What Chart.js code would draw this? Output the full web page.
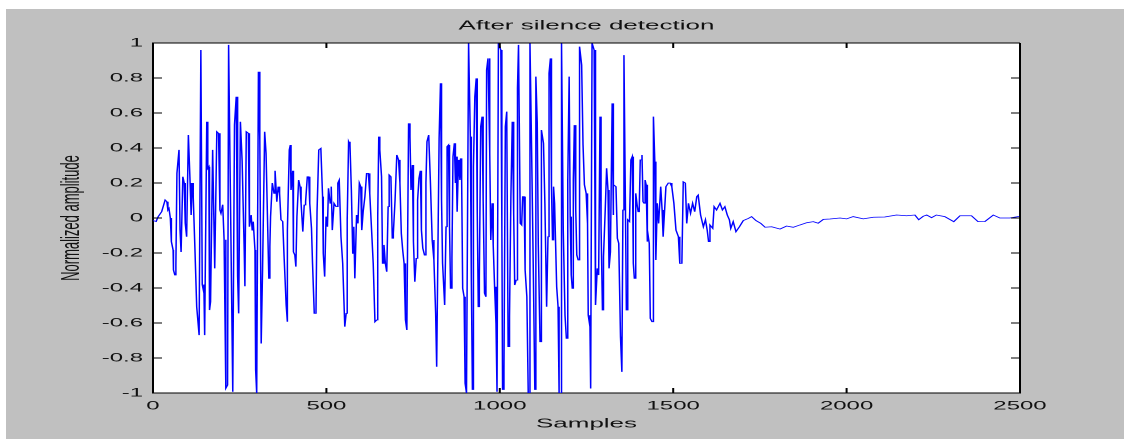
<!DOCTYPE html>
<html>
<head>
<meta charset="utf-8">
<title>After silence detection</title>
<script src="https://cdn.jsdelivr.net/npm/chart.js@4.4.1/dist/chart.umd.min.js"></script>
<style>
  html, body { margin: 0; padding: 0; background: #fff; overflow: hidden; }
  /* the figure is drawn at half width and stretched out horizontally */
  #wrap { width: 562px; height: 439px; transform: scaleX(2); transform-origin: 0 0; }
</style>
</head>
<body>
<div id="wrap"><canvas id="wave" width="562" height="439"></canvas></div>
<script>
// waveform vertices (sample index, normalized amplitude)
const sampleIdx = [
  0, 9, 15, 25, 35, 40, 43, 46, 50, 53, 58, 59, 63, 66, 69, 75, 78, 81, 86, 90,
  93, 97, 102, 107, 110, 113, 116, 121, 126, 133, 138, 142, 147, 149, 155, 158, 161, 163, 166, 172,
  178, 184, 189, 193, 196, 201, 205, 210, 215, 218, 224, 230, 235, 240, 244, 247, 252, 257, 263, 265,
  269, 275, 278, 283, 286, 289, 294, 296, 299, 304, 308, 312, 316, 322, 326, 334, 337, 339, 344, 349,
  352, 357, 361, 365, 369, 374, 378, 384, 386, 389, 393, 396, 398, 403, 405, 409, 412, 415, 420, 424,
  427, 432, 436, 440, 445, 449, 452, 457, 460, 465, 470, 473, 478, 484, 489, 491, 495, 499, 503, 506,
  511, 514, 517, 522, 528, 533, 537, 542, 547, 553, 557, 560, 564, 568, 572, 576, 579, 582, 587, 591,
  595, 599, 602, 606, 611, 616, 621, 625, 631, 635, 640, 645, 648, 651, 654, 659, 662, 666, 670, 674,
  678, 681, 686, 690, 693, 698, 703, 708, 712, 716, 720, 724, 728, 732, 737, 741, 744, 748, 751, 755,
  759, 763, 767, 771, 774, 778, 783, 787, 790, 795, 800, 805, 810, 815, 818, 825, 829, 832, 835, 841,
  845, 848, 852, 855, 858, 862, 865, 869, 872, 874, 877, 881, 885, 887, 890, 893, 897, 900, 904, 910,
  915, 918, 921, 924, 928, 932, 935, 938, 941, 945, 949, 952, 956, 960, 962, 966, 971, 974, 978, 981,
  985, 989, 992, 996, 1003, 1006, 1008, 1012, 1016, 1020, 1024, 1028, 1032, 1036, 1040, 1043, 1047, 1051, 1054, 1059,
  1063, 1066, 1070, 1073, 1078, 1082, 1087, 1092, 1097, 1101, 1104, 1108, 1111, 1116, 1120, 1126, 1130, 1135, 1139, 1142,
  1146, 1149, 1152, 1155, 1158, 1164, 1168, 1171, 1175, 1178, 1183, 1188, 1192, 1196, 1200, 1203, 1206, 1209, 1212, 1215,
  1219, 1222, 1226, 1229, 1231, 1236, 1240, 1244, 1249, 1253, 1255, 1260, 1262, 1266, 1272, 1275, 1277, 1281, 1285, 1289,
  1292, 1296, 1299, 1304, 1308, 1312, 1315, 1319, 1324, 1326, 1329, 1335, 1339, 1343, 1348, 1352, 1355, 1358, 1362, 1365,
  1369, 1374, 1378, 1382, 1385, 1388, 1392, 1396, 1399, 1402, 1405, 1410, 1413, 1416, 1419, 1422, 1424, 1427, 1431, 1434,
  1439, 1443, 1447, 1450, 1454, 1458, 1464, 1468, 1471, 1479, 1486, 1491, 1496, 1502, 1508, 1515, 1519, 1525, 1529, 1535,
  1539, 1544, 1550, 1556, 1562, 1568, 1572, 1579, 1587, 1593, 1598, 1602, 1606, 1614, 1618, 1625, 1635, 1642, 1649, 1656,
  1662, 1666, 1673, 1681, 1691, 1702, 1717, 1726, 1739, 1752, 1765, 1784, 1808, 1827, 1846, 1865, 1885, 1904, 1918, 1933,
  1952, 1981, 2000, 2019, 2048, 2077, 2110, 2144, 2173, 2197, 2208, 2221, 2231, 2245, 2259, 2283, 2309, 2327, 2360, 2379,
  2399, 2423, 2442, 2471, 2500
];
const amplitude = [
  -0.015, -0.02, 0.008, 0.036, 0.103, 0.093, 0.046, 0.055, 0, -0.135, -0.183, -0.297, -0.326, -0.269, 0.255, 0.389, -0.069, -0.194, 0.236, 0.2,
  -0.03, -0.107, 0.474, 0.2, 0.017, 0.2, 0.122, -0.183, -0.507, -0.669, 0.96, -0.38, -0.43, -0.669, 0.55, 0.284, 0.293, -0.526, -0.478, 0.389,
  -0.288, 0.493, 0.484, 0.046, 0.027, 0.076, -0.124, -0.973, -0.955, 0.989, 0.008, -0.993, 0.533, 0.693, -0.335, -0.545, 0.55, 0.326, -0.183, -0.39,
  0.493, 0.484, -0.05, 0.017, -0.069, -0.021, -0.183, -0.869, -1.0, 0.836, 0.446, -0.717, -0.288, 0.493, 0.37, -0.345, -0.164, 0.008, 0.2, 0.141,
  0.27, 0.093, 0.179, 0.141, -0.01, -0.02, -0.221, -0.497, -0.593, -0.069, 0.389, 0.417, 0.16, 0.27, -0.194, -0.212, -0.278, 0.008, 0.217, 0.179,
  0.084, -0.078, 0.074, 0.093, 0.236, 0.236, 0.084, -0.059, -0.259, -0.545, -0.535, 0.036, 0.389, 0.398, 0.122, -0.202, -0.335, 0.008, -0.05, 0.17,
  0.084, 0.179, -0.069, 0.084, 0.065, 0.2, 0.217, -0.107, -0.259, -0.621, -0.545, -0.01, 0.436, 0.417, 0.16, -0.202, -0.05, -0.345, 0.017, -0.031,
  0.2, 0.179, -0.069, 0.036, 0.122, 0.255, 0.255, 0.141, -0.097, -0.259, -0.593, -0.583, 0.008, 0.465, 0.389, 0.236, -0.259, -0.154, -0.259, -0.307,
  0.065, 0.246, 0.236, -0.116, -0.088, 0.103, 0.36, 0.332, 0.2, -0.088, -0.183, -0.259, -0.583, -0.64, 0.541, 0.465, 0.16, 0.303, -0.135, -0.364,
  -0.231, 0.103, 0.227, 0.27, -0.069, -0.173, -0.212, 0.2, 0.436, 0.474, 0.2, -0.126, -0.24, -0.545, -0.85, 0.455, 0.77, 0.103, -0.259, -0.497,
  -0.05, 0.408, 0.417, -0.05, -0.402, -0.231, 0.351, 0.427, 0.2, 0.351, 0.036, 0.332, 0.217, 0.341, 0.217, -0.402, -0.45, -0.945, -1.0, 1.0,
  0.465, -0.364, -0.98, 0.293, 0.693, 0.798, 0.027, -0.507, -0.335, 0.522, 0.579, 0.103, -0.43, -0.45, 0.846, 0.912, 0.37, -0.126, 0.084, -0.154,
  -0.393, -0.602, -0.993, 0.998, 0.96, -0.069, -0.98, -0.869, 0.522, 0.608, -0.735, -0.564, 0.122, 0.55, 0.027, -0.383, -0.355, 0.741, 0.989, -0.031,
  -0.04, 0.122, 0.122, -0.297, -0.45, -1.0, 1.0, 0.351, -0.355, -0.98, 0.808, 0.541, -0.154, -0.707, 0.503, 0.427, 0.084, -0.507, -0.107, 0.827,
  0.912, 0.179, -0.126, 0.179, 0.084, -0.393, -0.507, -1.0, -1.0, 1.0, -0.069, -0.555, -0.688, 0.217, 0.808, 0.008, -0.326, -0.402, 0.217, 0.531,
  0.046, -0.212, -0.24, -0.088, 0.979, 0.874, 0.417, 0.19, 0.141, -0.031, -0.555, -0.621, -0.974, 1.0, 0.96, -0.031, -0.497, -0.288, -0.326, 0.579,
  -0.05, -0.526, -0.221, 0.046, 0.284, 0.16, -0.288, -0.194, 0.655, 0.017, 0.19, 0.179, -0.116, -0.145, -0.678, -0.879, 0.046, 0.931, 0.122, -0.526,
  -0.01, -0.02, 0.332, 0.351, -0.259, -0.345, 0.141, 0.074, 0.036, 0.046, 0.332, 0.36, 0.093, 0.084, 0.217, 0.19, -0.135, -0.069, -0.145, -0.574,
  -0.593, 0.579, 0.322, -0.24, 0.084, -0.031, 0.179, 0.046, -0.107, 0.179, 0.2, 0.2, 0.179, 0.084, -0.069, -0.107, -0.259, -0.259, 0.207, 0.2,
  -0.031, 0.084, 0.027, 0.084, 0.036, 0.122, 0.131, 0.017, -0.05, -0.01, -0.069, -0.135, -0.04, -0.059, 0.065, 0.046, 0.084, 0.046, 0.065, 0.017,
  -0.01, -0.059, -0.021, -0.078, -0.05, -0.015, -0.002, 0.008, -0.015, -0.03, -0.053, -0.05, -0.063, -0.046, -0.053, -0.04, -0.027, -0.021, -0.03, -0.008,
  -0.006, 0.0, -0.005, 0.008, -0.005, 0.004, 0.006, 0.017, 0.013, 0.017, -0.01, 0.01, 0.017, 0.002, 0.017, 0.008, -0.021, 0.013, 0.013, -0.021,
  -0.02, 0.017, 0.0, 0.0, 0.01
];

const xTicks = [0, 500, 1000, 1500, 2000, 2500];
const xTickLabels = ['0', '500', '1000', '1500', '2000', '2500'];
const yTicks = [-1, -0.8, -0.6, -0.4, -0.2, 0, 0.2, 0.4, 0.6, 0.8, 1];
const yTickLabels = ['-1', '-0.8', '-0.6', '-0.4', '-0.2', '0', '0.2', '0.4', '0.6', '0.8', '1'];

Chart.defaults.font.family = "'Liberation Sans', Arial, sans-serif";
Chart.defaults.color = '#111';

// grey figure window, white axes box, closed frame and inward ticks
const figureFrame = {
  id: 'figureFrame',
  beforeDraw(chart) {
    const { ctx, chartArea: a } = chart;
    ctx.save();
    ctx.fillStyle = '#ffffff';
    ctx.fillRect(0, 0, chart.width, chart.height);
    ctx.fillStyle = '#c0c0c0';
    ctx.fillRect(3, 9, chart.width - 3, chart.height - 9);
    ctx.fillStyle = '#ffffff';
    ctx.fillRect(a.left, a.top, a.right - a.left, a.bottom - a.top);
    ctx.restore();
  },
  afterDraw(chart) {
    const { ctx, chartArea: a, scales } = chart;
    ctx.save();
    ctx.strokeStyle = '#000';
    ctx.lineWidth = 1;
    ctx.beginPath();
    xTicks.forEach(v => {
      const px = scales.x.getPixelForValue(v);
      ctx.moveTo(px, a.bottom); ctx.lineTo(px, a.bottom - 5);
      ctx.moveTo(px, a.top); ctx.lineTo(px, a.top + 5);
    });
    yTicks.forEach(v => {
      const py = scales.y.getPixelForValue(v);
      ctx.moveTo(a.left, py); ctx.lineTo(a.left + 4.5, py);
      ctx.moveTo(a.right, py); ctx.lineTo(a.right - 4.5, py);
    });
    ctx.moveTo(a.left, a.top); ctx.lineTo(a.right, a.top);
    ctx.moveTo(a.right, a.top); ctx.lineTo(a.right, a.bottom);
    ctx.stroke();
    ctx.restore();
  }
};

const tickFont = { size: 12 };

new Chart(document.getElementById('wave'), {
  type: 'line',
  data: {
    datasets: [{
      data: sampleIdx.map((s, i) => ({ x: s, y: amplitude[i] })),
      borderColor: '#0000ff',
      borderWidth: 0.75,
      pointRadius: 0,
      tension: 0,
      fill: false
    }]
  },
  options: {
    responsive: false,
    devicePixelRatio: 2,
    animation: false,
    events: [],
    layout: { padding: { left: 0, right: 52, top: 0, bottom: 0 } },
    plugins: {
      legend: { display: false },
      tooltip: { enabled: false },
      title: {
        display: true,
        fullSize: false,
        text: 'After silence detection',
        color: '#111',
        font: { size: 13, weight: 'normal' },
        padding: { top: 18.2, bottom: 9.2 }
      }
    },
    scales: {
      x: {
        type: 'linear',
        min: 0,
        max: 2500,
        afterBuildTicks: s => { s.ticks = xTicks.map(v => ({ value: v })); },
        afterFit: s => { s.height = 46; },
        ticks: {
          font: tickFont,
          color: '#111',
          padding: 6,
          maxRotation: 0,
          autoSkip: false,
          callback: v => xTickLabels[xTicks.indexOf(v)]
        },
        grid: { display: false, drawTicks: false, tickLength: 0 },
        border: { display: true, color: '#000', width: 1 },
        title: { display: true, text: 'Samples', color: '#111', font: { size: 13 }, padding: { top: 0, bottom: 7.2 } }
      },
      y: {
        type: 'linear',
        min: -1,
        max: 1,
        afterBuildTicks: s => { s.ticks = yTicks.map(v => ({ value: v })); },
        afterFit: s => { s.width = 76.5; },
        ticks: {
          font: tickFont,
          color: '#111',
          padding: 5,
          autoSkip: false,
          callback: v => yTickLabels[yTicks.indexOf(v)]
        },
        grid: { display: false, drawTicks: false, tickLength: 0 },
        border: { display: true, color: '#000', width: 1 },
        title: { display: true, text: 'Normalized amplitude', color: '#111', font: { size: 13 }, padding: { top: 28.2, bottom: 0 } }
      }
    }
  },
  plugins: [figureFrame]
});
</script>
</body>
</html>
